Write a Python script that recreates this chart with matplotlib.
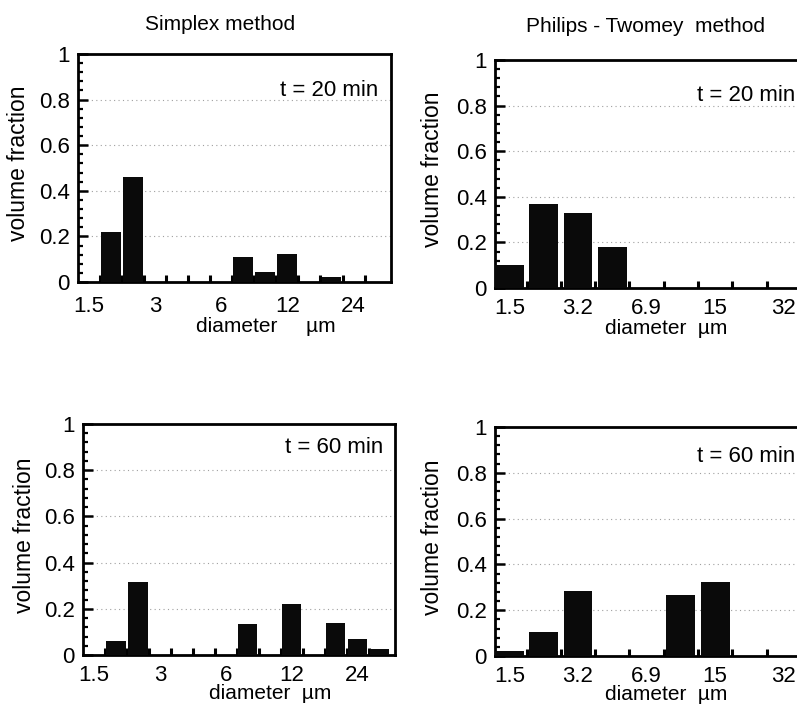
import numpy as np
import matplotlib.pyplot as plt
from matplotlib.ticker import MultipleLocator, FixedLocator

plt.rcParams['font.family'] = ['Liberation Sans', 'DejaVu Sans']

# simplex method: 14 size bins, 3 per doubling of diameter
simplex_ticks = [0, 3, 6, 9, 12]
simplex_labels = ['1.5', '3', '6', '12', '24']
simplex_t20 = [0, 0.22, 0.46, 0, 0, 0, 0, 0.108, 0.042, 0.125, 0, 0.02, 0, 0]
simplex_t60 = [0, 0.062, 0.316, 0, 0, 0, 0, 0.135, 0, 0.222, 0, 0.14, 0.068, 0.025]

# Philips-Twomey: 10 bins, 6 per decade
pt_ticks = [0, 2, 4, 6, 8]
pt_labels = ['1.5', '3.2', '6.9', '15', '32']
pt_t20 = [0.099, 0.368, 0.331, 0.182, 0, 0, 0, 0, 0, 0]
pt_t60 = [0.02, 0.105, 0.284, 0, 0, 0.266, 0.325, 0, 0, 0]

yticks = [0, 0.2, 0.4, 0.6, 0.8, 1]
ylabels = ['0', '0.2', '0.4', '0.6', '0.8', '1']

W, H = 797, 704
fig = plt.figure(figsize=(W / 100, H / 100), dpi=100)


def px_axes(left, top, right, bottom):
    return fig.add_axes([left / W, 1 - bottom / H, (right - left) / W, (bottom - top) / H])


def draw_panel(ax, values, ticks, labels, xlim, width, tlabel, tpos, xlabel, xlab_pos, xpad):
    x = np.arange(len(values))
    ax.bar(x, values, width=width, color='#0a0a0a', zorder=3)
    ax.set_xlim(*xlim)
    ax.set_ylim(0, 1)

    # faint dotted grid like the scanned original
    for g in [0.2, 0.4, 0.6, 0.8]:
        ax.axhline(g, color='#a0a0a0', lw=0.8, ls=(0, (1, 3)), zorder=1)

    ax.set_xticks(ticks)
    ax.set_xticklabels(labels, fontsize=16)
    ax.xaxis.set_minor_locator(FixedLocator(x[:-1] + 0.5))
    ax.tick_params(axis='x', which='major', length=0, pad=xpad)
    ax.tick_params(axis='x', which='minor', direction='in', length=5, width=2.2, top=False)

    ax.set_yticks(yticks)
    ax.set_yticklabels(ylabels, fontsize=16)
    ax.yaxis.set_minor_locator(MultipleLocator(0.04))
    ax.tick_params(axis='y', which='major', direction='in', length=7, width=1.8, pad=6, right=False)
    ax.tick_params(axis='y', which='minor', direction='in', length=3.5, width=1.6, right=False)

    for s in ax.spines.values():
        s.set_linewidth(2.0)

    ax.set_ylabel('volume fraction', fontsize=16.5)
    ax.yaxis.set_label_coords(-0.152, 0.52)
    ax.set_xlabel(xlabel, fontsize=15)
    ax.xaxis.set_label_coords(*xlab_pos)
    ax.text(tpos[0], tpos[1], tlabel, transform=ax.transAxes, ha='right', va='center', fontsize=16)


ax1 = px_axes(78, 54, 391, 282)
draw_panel(ax1, simplex_t20, simplex_ticks, simplex_labels, (-0.5, 13.7), 0.9,
           't = 20 min', (0.958, 0.838), 'diameter     µm', (0.60, -0.152), 10)

ax2 = px_axes(495, 60, 830, 288)
draw_panel(ax2, pt_t20, pt_ticks, pt_labels, (-0.42, 9.35), 0.84,
           't = 20 min', (0.895, 0.846), 'diameter  µm', (0.51, -0.135), 7)

ax3 = px_axes(83, 424, 395, 655)
draw_panel(ax3, simplex_t60, simplex_ticks, simplex_labels, (-0.5, 13.7), 0.88,
           't = 60 min', (0.962, 0.90), 'diameter  µm', (0.60, -0.125), 7)

ax4 = px_axes(495, 427, 830, 656)
draw_panel(ax4, pt_t60, pt_ticks, pt_labels, (-0.42, 9.35), 0.84,
           't = 60 min', (0.895, 0.87), 'diameter  µm', (0.51, -0.125), 7)

fig.text(220 / W, 1 - 25 / H, 'Simplex method', ha='center', va='center', fontsize=15)
fig.text(646 / W, 1 - 27 / H, 'Philips - Twomey  method', ha='center', va='center', fontsize=15)

fig.savefig('out.png', dpi=100)
